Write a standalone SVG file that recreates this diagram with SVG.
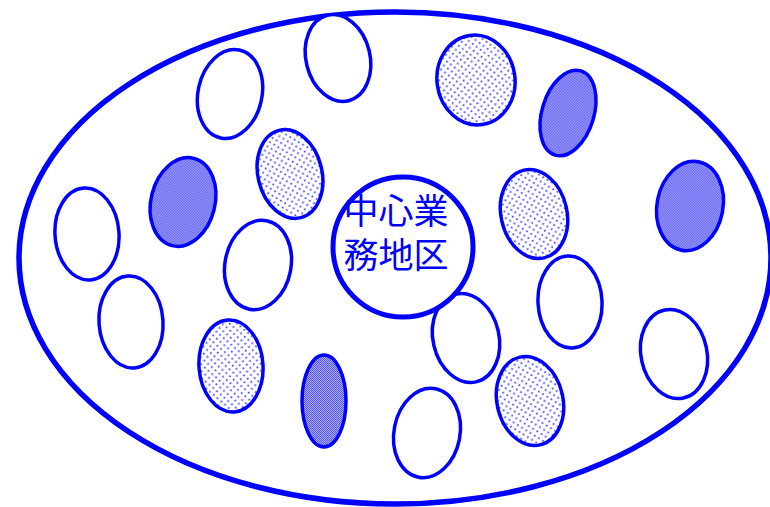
<svg xmlns="http://www.w3.org/2000/svg" width="770" height="507" viewBox="0 0 770 507">
<style>
.o{fill:#fff;stroke:#0000ff;stroke-width:3.5}
.d{fill:url(#dots);stroke:#0000ff;stroke-width:3.5}
.k{fill:url(#check);stroke:#0000ff;stroke-width:3.5}
.lbl{font-family:"Noto Sans CJK JP","Noto Sans CJK SC",sans-serif;font-size:35px;fill:#0000ff;text-anchor:middle}
</style>
<defs>
<pattern id="dots" width="7" height="7" patternUnits="userSpaceOnUse">
<rect width="7" height="7" fill="#fff"/>
<circle cx="1.75" cy="1.75" r="1" fill="#4040ff"/>
<circle cx="5.25" cy="5.25" r="1" fill="#4040ff"/>
</pattern>
<pattern id="check" width="2" height="2" patternUnits="userSpaceOnUse">
<rect width="2" height="2" fill="#a8a8ff"/>
<rect width="1" height="1" fill="#5a5af0"/>
<rect x="1" y="1" width="1" height="1" fill="#5a5af0"/>
</pattern>
</defs>
<g id="outer"><ellipse cx="395" cy="258" rx="376" ry="246" fill="#fff" stroke="#0000ff" stroke-width="5.5"/></g>
<g id="e1"><ellipse class="o" cx="338" cy="58" rx="32" ry="44" transform="rotate(-14 338 58)"/></g>
<g id="e2"><ellipse class="o" cx="230" cy="94" rx="32" ry="45" transform="rotate(12 230 94)"/></g>
<g id="e3"><ellipse class="d" cx="476" cy="80" rx="39" ry="45" transform="rotate(-8 476 80)"/></g>
<g id="e4"><ellipse class="k" cx="568" cy="113" rx="26" ry="44" transform="rotate(17 568 113)"/></g>
<g id="e5"><ellipse class="d" cx="290" cy="174" rx="32" ry="45" transform="rotate(-14 290 174)"/></g>
<g id="e6"><ellipse class="k" cx="183" cy="202" rx="32" ry="45" transform="rotate(14 183 202)"/></g>
<g id="e7"><ellipse class="o" cx="87" cy="234" rx="32" ry="46" transform="rotate(-4 87 234)"/></g>
<g id="e8"><ellipse class="o" cx="258" cy="265" rx="33" ry="45" transform="rotate(11 258 265)"/></g>
<g id="e10"><ellipse class="d" cx="534" cy="214" rx="33" ry="45" transform="rotate(-13 534 214)"/></g>
<g id="e11"><ellipse class="k" cx="690" cy="206" rx="33" ry="45" transform="rotate(11 690 206)"/></g>
<g id="e12"><ellipse class="o" cx="131" cy="322" rx="32" ry="46" transform="rotate(-4 131 322)"/></g>
<g id="e13"><ellipse class="d" cx="231" cy="366" rx="32" ry="46" transform="rotate(-4 231 366)"/></g>
<g id="e14"><ellipse class="k" cx="324" cy="401" rx="22" ry="46"/></g>
<g id="e15"><ellipse class="o" cx="466" cy="338" rx="33" ry="45" transform="rotate(-13 466 338)"/></g>
<g id="e16"><ellipse class="o" cx="570" cy="302" rx="32" ry="46" transform="rotate(-3 570 302)"/></g>
<g id="e17"><ellipse class="o" cx="674" cy="354" rx="33" ry="45" transform="rotate(-12 674 354)"/></g>
<g id="e18"><ellipse class="d" cx="530" cy="401" rx="33" ry="45" transform="rotate(-13 530 401)"/></g>
<g id="e19"><ellipse class="o" cx="427" cy="433" rx="33" ry="45" transform="rotate(11 427 433)"/></g>
<g id="center">
<circle cx="403" cy="247" r="70" fill="#fff" stroke="#0000ff" stroke-width="5"/>
<text class="lbl" x="396" y="224">中心業</text>
<text class="lbl" x="396" y="268">務地区</text>
</g>
<g id="connectors"/>
</svg>
